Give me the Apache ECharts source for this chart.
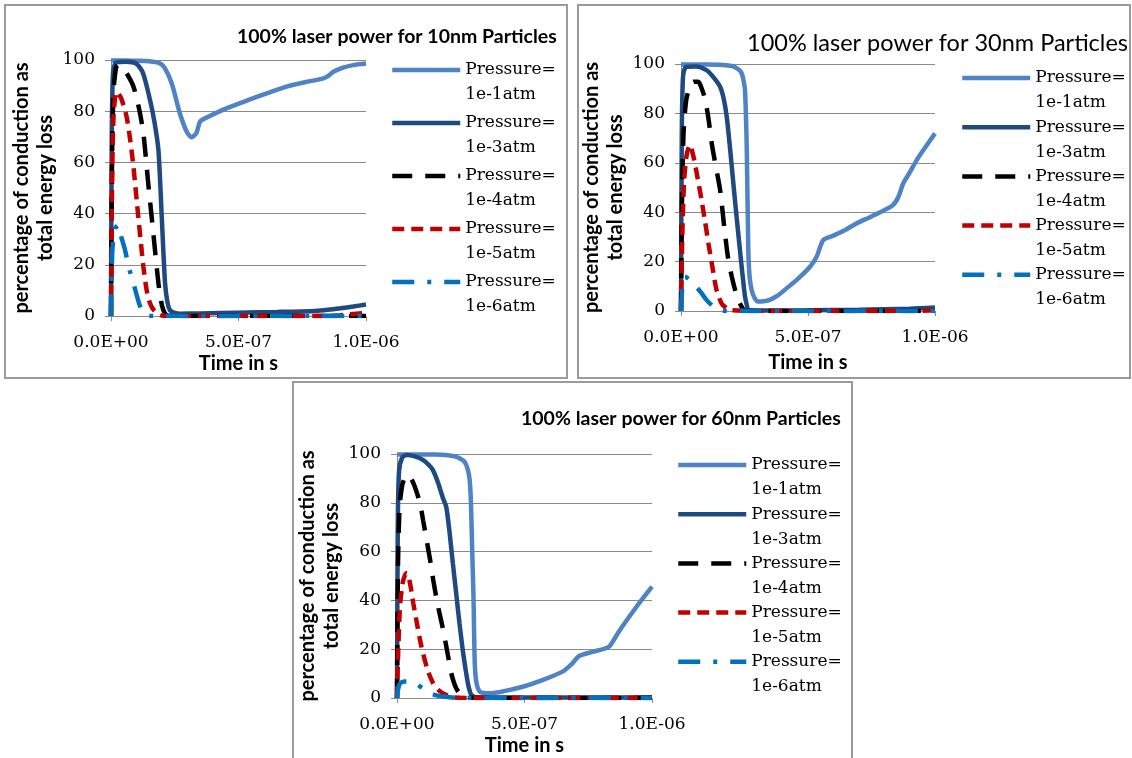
<!DOCTYPE html>
<html>
<head>
<meta charset="utf-8">
<script src="https://cdn.jsdelivr.net/npm/echarts@6/dist/echarts.min.js"></script>
<style>
  html, body { margin: 0; padding: 0; background: #fff; }
  #chart { width: 1132px; height: 758px; }
</style>
</head>
<body>
<div id="chart"></div>
<script>
// ---- labels ----
const pressureNames = ['Pressure=\n1e-1atm', 'Pressure=\n1e-3atm', 'Pressure=\n1e-4atm', 'Pressure=\n1e-5atm', 'Pressure=\n1e-6atm'];
const panelTitles = ['100% laser power for 10nm Particles', '100% laser power for 30nm Particles', '100% laser power for 60nm Particles'];
const yAxisTitle = 'percentage of conduction as\ntotal energy loss';
const xAxisTitle = 'Time in s';
const xTickValues = [0, 5e-7, 1e-6];
const xTickLabels = ['0.0E+00', '5.0E-07', '1.0E-06'];

// ---- data: time in microseconds, value in percent ----
// 10 nm particles
const t10_1 = [0, 0.05, 0.1, 0.15, 0.19, 0.21, 0.238, 0.27, 0.297, 0.316, 0.335, 0.349, 0.369, 0.45, 0.545, 0.62, 0.689, 0.76, 0.833, 0.852, 0.872, 0.91, 0.95, 1.0];
const v10_1 = [99.8, 99.8, 99.7, 99.5, 98.8, 97, 90.9, 79.2, 72, 69.8, 71.5, 75.9, 77.2, 81, 84.6, 87.3, 89.6, 91.3, 92.8, 93.8, 95.4, 97, 98, 98.6];
const t10_3 = [0, 0.003, 0.008, 0.02, 0.06, 0.1, 0.125, 0.153, 0.17, 0.186, 0.199, 0.212, 0.222, 0.231, 0.25, 0.27, 0.35, 0.5, 0.65, 0.8, 0.85, 0.9, 0.95, 1.0];
const v10_3 = [0, 70, 95, 99, 99.3, 98.5, 95, 84.4, 76, 64.8, 38.8, 12.8, 5, 2.3, 1.2, 0.9, 1.0, 1.3, 1.6, 2.0, 2.4, 3.0, 3.7, 4.5];
const t10_4 = [0, 0.004, 0.01, 0.02, 0.028, 0.04, 0.06, 0.088, 0.11, 0.127, 0.146, 0.166, 0.186, 0.2, 0.212, 0.225, 0.3, 0.5, 0.7, 0.9, 1.0];
const v10_4 = [0, 60, 88, 97, 98, 97, 95, 89.6, 81, 71.4, 51.8, 32.3, 12.8, 4, 1, 0.1, 0, 0, 0, 0, 0];
const t10_5 = [0, 0.004, 0.01, 0.022, 0.04, 0.061, 0.075, 0.088, 0.107, 0.127, 0.14, 0.153, 0.17, 0.192, 0.22, 0.3, 0.5, 0.7, 0.85, 0.9, 0.95, 1.0];
const v10_5 = [0, 50, 78, 87.6, 85, 77.9, 69, 58.3, 38.8, 19.3, 10, 5, 2, 0.4, 0, 0, 0, 0, 0, 0.3, 0.8, 1.2];
const t10_6 = [0, 0.005, 0.015, 0.029, 0.04, 0.055, 0.07, 0.088, 0.11, 0.127, 0.15, 0.2, 0.4, 0.6, 0.8, 1.0];
const v10_6 = [0, 25, 34, 35.5, 31, 25.8, 19, 12.8, 5, 1, 0, 0, 0, 0, 0, 0];

// 30 nm particles
const t30_1 = [0, 0.05, 0.1, 0.15, 0.2, 0.213, 0.23, 0.239, 0.245, 0.252, 0.259, 0.265, 0.27, 0.278, 0.29, 0.304, 0.33, 0.35, 0.38, 0.416, 0.46, 0.508, 0.534, 0.56, 0.6, 0.65, 0.692, 0.75, 0.83, 0.855, 0.875, 0.9, 0.928, 0.96, 1.0];
const v30_1 = [99.8, 99.8, 99.8, 99.7, 99.2, 98.7, 97.5, 96.2, 94, 89.5, 65.2, 24.7, 14, 8.5, 5.2, 3.8, 4, 4.5, 6.2, 9.2, 13, 17.9, 22, 28.7, 30.5, 33, 35.5, 38.3, 42.5, 46, 51.7, 56, 61.1, 66, 71.9];
const t30_3 = [0, 0.003, 0.008, 0.02, 0.06, 0.1, 0.125, 0.154, 0.168, 0.18, 0.193, 0.206, 0.219, 0.232, 0.245, 0.252, 0.26, 0.265, 0.3, 0.5, 0.7, 0.9, 1.0];
const v30_3 = [0, 70, 95, 98.8, 99, 97.5, 95, 90.8, 86, 78.7, 66, 51.7, 38, 24.7, 12, 5.8, 2, 0.4, 0.2, 0.3, 0.5, 0.9, 1.4];
const t30_4 = [0, 0.004, 0.01, 0.02, 0.035, 0.05, 0.068, 0.08, 0.094, 0.108, 0.121, 0.138, 0.154, 0.173, 0.186, 0.2, 0.22, 0.239, 0.25, 0.3, 0.5, 0.7, 1.0];
const v30_4 = [0, 45, 72, 85, 91, 92.8, 92.8, 90.5, 86.1, 78, 67.9, 58, 49, 31.5, 21, 13.9, 6, 1.7, 0.2, 0, 0, 0, 0];
const t30_5 = [0, 0.005, 0.012, 0.022, 0.035, 0.048, 0.062, 0.081, 0.095, 0.108, 0.125, 0.14, 0.16, 0.18, 0.2, 0.3, 0.6, 0.9, 1.0];
const v30_5 = [0, 30, 52, 63, 67.2, 63, 55.7, 44.9, 36, 27.4, 17, 8.5, 3, 1.1, 0.3, 0, 0, 0, 0.3];
const t30_6 = [0, 0.004, 0.01, 0.016, 0.03, 0.048, 0.065, 0.081, 0.1, 0.127, 0.15, 0.2, 0.5, 1.0];
const v30_6 = [0, 8, 13, 13.9, 13, 11.2, 9.2, 7.2, 4.5, 1.8, 0.3, 0, 0, 0];

// 60 nm particles
const t60_1 = [0, 0.05, 0.1, 0.15, 0.2, 0.226, 0.245, 0.265, 0.278, 0.285, 0.29, 0.295, 0.3, 0.305, 0.312, 0.324, 0.34, 0.363, 0.42, 0.493, 0.57, 0.649, 0.688, 0.714, 0.77, 0.831, 0.86, 0.883, 0.94, 1.0];
const v60_1 = [99.8, 99.8, 99.8, 99.8, 99.5, 99, 98.3, 96.8, 93.5, 89.3, 80, 60, 41.5, 14.2, 6, 2.6, 2.1, 1.9, 2.8, 4.6, 7.3, 10.8, 14.2, 17.2, 19, 21, 25.5, 29.2, 37.5, 45.6];
const t60_3 = [0, 0.003, 0.008, 0.02, 0.038, 0.07, 0.103, 0.125, 0.141, 0.16, 0.18, 0.193, 0.206, 0.219, 0.232, 0.245, 0.26, 0.278, 0.285, 0.292, 0.31, 0.5, 0.8, 1.0];
const v60_3 = [0, 70, 93, 98.5, 99.6, 99, 97.5, 95.5, 93.4, 88.5, 82, 78.4, 68, 55.2, 43, 30.6, 18, 6, 3, 1.2, 0.3, 0.2, 0.2, 0.3];
const t60_4 = [0, 0.004, 0.01, 0.02, 0.032, 0.044, 0.06, 0.075, 0.09, 0.103, 0.116, 0.13, 0.142, 0.16, 0.181, 0.198, 0.213, 0.232, 0.252, 0.27, 0.4, 0.7, 1.0];
const v60_4 = [0, 55, 78, 87, 90.5, 91.4, 89, 85, 79.8, 72.5, 64.8, 56.5, 48.4, 38, 27.9, 18.5, 10.1, 4, 1.2, 0.2, 0, 0, 0];
const t60_5 = [0, 0.005, 0.012, 0.022, 0.03, 0.038, 0.05, 0.064, 0.08, 0.096, 0.12, 0.142, 0.165, 0.194, 0.22, 0.3, 0.6, 1.0];
const v60_5 = [0, 20, 38, 47, 50, 51.1, 47.5, 38.8, 29.5, 21, 11.5, 6, 3, 1.2, 0.3, 0, 0, 0];
const t60_6 = [0, 0.004, 0.012, 0.03, 0.057, 0.08, 0.105, 0.129, 0.155, 0.18, 0.25, 0.5, 1.0];
const v60_6 = [0, 3.5, 6, 6.8, 6.7, 5.5, 3.5, 1.9, 1.1, 0.6, 0, 0, 0];

const panelData = [
  [[t10_1, v10_1], [t10_3, v10_3], [t10_4, v10_4], [t10_5, v10_5], [t10_6, v10_6]],
  [[t30_1, v30_1], [t30_3, v30_3], [t30_4, v30_4], [t30_5, v30_5], [t30_6, v30_6]],
  [[t60_1, v60_1], [t60_3, v60_3], [t60_4, v60_4], [t60_5, v60_5], [t60_6, v60_6]]
];

// ---- styling ----
const US = 1e-6; // microseconds -> seconds
const seriesStyles = [
  { color: '#4F83C6', type: 'solid' },
  { color: '#1F4A80', type: 'solid' },
  { color: '#000000', type: [20, 13] },
  { color: '#C00000', type: [12, 7] },
  { color: '#0070C0', type: [22, 13, 4, 13] }
];
const SERIF = "'DejaVu Serif', serif";
const SANS = "Lato, 'Open Sans', sans-serif";
const GRID_COLOR = '#8a8a8a';

// panel frames, plot areas, titles, legends
const panels = [
  { frame: [5, 5, 562, 373], grid: [111, 60, 255, 256], title: [237, 27, 19.5, 'bold'], legend: [390, 32.5, -22], xName: 38, xLab: 18 },
  { frame: [578, 5, 552, 373], grid: [681, 64, 254, 247], title: [747, 31, 23.5, 'normal'], legend: [960, 40.5, -25.8], xName: 42, xLab: 18 },
  { frame: [293, 382, 559, 390], grid: [397, 454, 255, 244], title: [521, 409, 19.5, 'bold'], legend: [676, 427.5, -25.8], xName: 38, xLab: 18 }
];

const option = {
  animation: false,
  backgroundColor: '#ffffff',
  title: [], grid: [], xAxis: [], yAxis: [], legend: [], series: [],
  graphic: []
};

panels.forEach((p, i) => {
  option.graphic.push({
    type: 'rect', silent: true, z: -1,
    shape: { x: p.frame[0], y: p.frame[1], width: p.frame[2], height: p.frame[3] },
    style: { fill: 'none', stroke: '#9a9a9a', lineWidth: 2 }
  });
  option.title.push({
    text: panelTitles[i], left: p.title[0], top: p.title[1], padding: 0,
    textStyle: { fontFamily: SANS, fontSize: p.title[2], fontWeight: p.title[3], color: '#000' }
  });
  option.grid.push({ left: p.grid[0], top: p.grid[1], width: p.grid[2], height: p.grid[3], containLabel: false });
  option.xAxis.push({
    gridIndex: i, type: 'value', min: 0, max: 1e-6, interval: 5e-7,
    name: xAxisTitle, nameLocation: 'middle', nameGap: p.xName,
    nameTextStyle: { fontFamily: SANS, fontSize: 20, fontWeight: 'bold', color: '#000' },
    axisLine: { show: true, lineStyle: { color: GRID_COLOR, width: 1 } },
    axisTick: { show: true, length: 5, lineStyle: { color: GRID_COLOR } },
    splitLine: { show: false },
    axisLabel: {
      margin: p.xLab, fontFamily: SERIF, fontSize: 17, color: '#000',
      formatter: v => {
        const k = xTickValues.findIndex(t => Math.abs(t - v) < 1e-12);
        return k >= 0 ? xTickLabels[k] : '';
      }
    }
  });
  option.yAxis.push({
    gridIndex: i, type: 'value', min: 0, max: 100, interval: 20,
    name: yAxisTitle, nameLocation: 'middle', nameGap: 53,
    nameTextStyle: { fontFamily: SANS, fontSize: 20, fontWeight: 'bold', color: '#000', lineHeight: 24 },
    axisLine: { show: true, lineStyle: { color: GRID_COLOR, width: 1 } },
    axisTick: { show: true, length: 6, lineStyle: { color: GRID_COLOR } },
    splitLine: { show: true, lineStyle: { color: GRID_COLOR, width: 1 } },
    axisLabel: { margin: 16, fontFamily: SERIF, fontSize: 17, color: '#000' }
  });
  // a blank first line puts "Pressure=" level with the legend line
  option.legend.push({
    orient: 'vertical', left: p.legend[0], top: p.legend[1], itemGap: p.legend[2],
    itemWidth: 68, itemHeight: 14, padding: 0, selectedMode: false,
    data: pressureNames,
    formatter: name => '\n' + name,
    lineStyle: { width: 4.5 },
    itemStyle: { opacity: 0 },
    textStyle: { fontFamily: SERIF, fontSize: 17, lineHeight: 25, color: '#000' }
  });
  panelData[i].forEach(([ts, vs], s) => {
    const st = seriesStyles[s];
    option.series.push({
      type: 'line', name: pressureNames[s], xAxisIndex: i, yAxisIndex: i,
      data: ts.map((t, k) => [t * US, vs[k]]),
      symbol: 'none', smooth: 0.25, clip: true,
      itemStyle: { color: st.color },
      lineStyle: { color: st.color, width: 4.5, type: st.type, cap: 'butt' },
      z: 2 + s
    });
  });
});

const chart = echarts.init(document.getElementById('chart'), null, { renderer: 'canvas' });
chart.setOption(option);
</script>
</body>
</html>
